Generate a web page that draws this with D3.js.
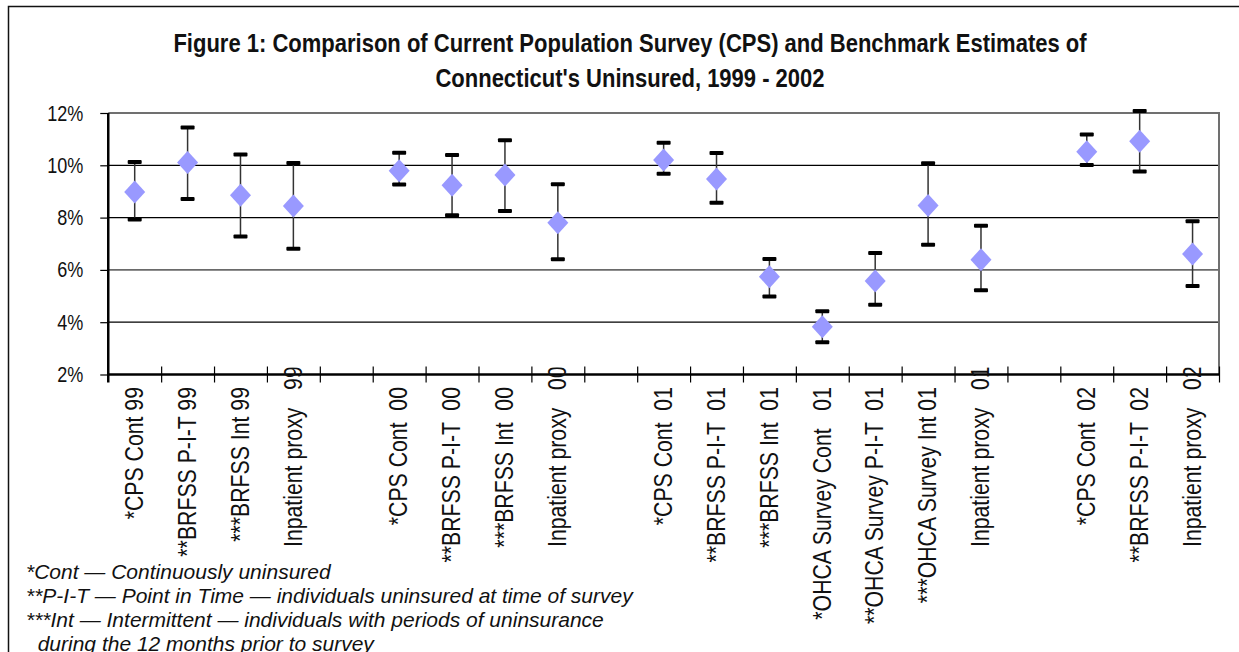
<!DOCTYPE html>
<html>
<head>
<meta charset="utf-8">
<script src="https://cdn.jsdelivr.net/npm/d3@7"></script>
<style>
  html, body { margin: 0; padding: 0; background: #fff; }
  svg { display: block; }
  text { font-family: "Liberation Sans", Arial, sans-serif; }
</style>
</head>
<body>
<svg></svg>
<script>
const WIDTH = 1239;
const HEIGHT = 652;

// category slots, null = empty spacer between survey years
const categories = [
  '*CPS Cont 99', '**BRFSS P-I-T 99', '***BRFSS Int 99', 'Inpatient proxy   99', null,
  '*CPS Cont  00', '**BRFSS P-I-T  00', '***BRFSS Int  00', 'Inpatient proxy   00', null,
  '*CPS Cont  01', '**BRFSS P-I-T  01', '***BRFSS Int  01', '*OHCA Survey Cont   01',
  '**OHCA Survey P-I-T  01', '***OHCA Survey Int 01', 'Inpatient proxy   01', null,
  '*CPS Cont  02', '**BRFSS P-I-T  02', 'Inpatient proxy   02',
];

// percent uninsured: estimate and confidence bounds
const estimate = [8.98, 10.11, 8.85, 8.44, null, 9.79, 9.24, 9.63, 7.80, null,
  10.20, 9.48, 5.74, 3.83, 5.58, 8.46, 6.39, null, 10.52, 10.92, 6.61];
const upper = [10.13, 11.45, 10.41, 10.09, null, 10.48, 10.39, 10.96, 9.28, null,
  10.86, 10.47, 6.42, 4.42, 6.65, 10.08, 7.69, null, 11.18, 12.08, 7.86];
const lower = [7.93, 8.71, 7.28, 6.81, null, 9.27, 8.09, 8.25, 6.41, null,
  9.68, 8.57, 4.98, 3.23, 4.67, 6.96, 5.22, null, 10.01, 9.76, 5.38];

const yTicks = [2, 4, 6, 8, 10, 12];

const titleLines = [
  'Figure 1: Comparison of Current Population Survey (CPS) and Benchmark Estimates of',
  "Connecticut's Uninsured, 1999 - 2002",
];

const footnotes = [
  '*Cont \u2014 Continuously uninsured',
  '**P-I-T \u2014 Point in Time \u2014 individuals uninsured at time of survey',
  '***Int \u2014 Intermittent \u2014 individuals with periods of uninsurance',
  '  during the 12 months prior to survey',
];

const PLOT = { left: 108.25, right: 1219, top: 113, bottom: 374.5 };

// squeeze a text horizontally to mimic a narrow typeface
function narrow(selection, factor) {
  selection.each(function () {
    const len = this.getComputedTextLength();
    d3.select(this)
      .attr('textLength', len * factor)
      .attr('lengthAdjust', 'spacingAndGlyphs');
  });
}

const svg = d3.select('svg')
  .attr('width', WIDTH)
  .attr('height', HEIGHT);

svg.append('rect')
  .attr('width', WIDTH)
  .attr('height', HEIGHT)
  .attr('fill', '#fff');

// outer chart frame (runs past the visible window on right and bottom)
svg.append('rect')
  .attr('x', 8.5)
  .attr('y', 6.5)
  .attr('width', 1260)
  .attr('height', 700)
  .attr('fill', 'none')
  .attr('stroke', '#111')
  .attr('stroke-width', 1.5);

const slots = d3.range(categories.length);
const xScale = d3.scaleBand()
  .domain(slots)
  .range([PLOT.left, PLOT.right]);
const xCenter = i => xScale(i) + xScale.bandwidth() / 2;

const yScale = d3.scaleLinear()
  .domain([2, 12])
  .range([PLOT.bottom, PLOT.top]);

// title
svg.append('g')
  .selectAll('text')
  .data(titleLines)
  .enter()
  .append('text')
  .attr('x', 630)
  .attr('y', (d, i) => 52 + i * 35)
  .attr('text-anchor', 'middle')
  .attr('font-size', 25)
  .attr('font-weight', 'bold')
  .attr('fill', '#111')
  .text(d => d)
  .call(narrow, 0.88);

// gridlines
svg.append('g')
  .selectAll('line')
  .data(yTicks.filter(t => t > 2 && t < 12))
  .enter()
  .append('line')
  .attr('x1', PLOT.left)
  .attr('x2', PLOT.right)
  .attr('y1', d => yScale(d))
  .attr('y2', d => yScale(d))
  .attr('stroke', d => (d === 6 ? '#6a6a6a' : '#000'))
  .attr('stroke-width', d => (d === 6 ? 1.6 : 1.2));

// plot area top and right border
svg.append('path')
  .attr('d', `M${PLOT.left},${PLOT.top}H${PLOT.right}V${PLOT.bottom}`)
  .attr('fill', 'none')
  .attr('stroke', '#707070')
  .attr('stroke-width', 2);

// y axis
const leftAxis = d3.axisLeft(yScale)
  .tickValues(yTicks)
  .tickSize(8)
  .tickPadding(17)
  .tickFormat(d => `${d}%`);
const yAxisG = svg.append('g')
  .attr('transform', `translate(${PLOT.left}, 0)`)
  .call(leftAxis);
yAxisG.select('.domain')
  .attr('d', `M0,${PLOT.top}V${PLOT.bottom + 8}`)
  .attr('stroke', '#000')
  .attr('stroke-width', 2.5);
yAxisG.selectAll('.tick line')
  .attr('stroke', '#000')
  .attr('stroke-width', 1.2);
yAxisG.selectAll('.tick text')
  .attr('font-family', '"Liberation Sans", Arial, sans-serif')
  .attr('font-size', 22)
  .attr('fill', '#111')
  .call(narrow, 0.82);

// x axis with ticks crossing at slot boundaries
const boundary = d3.scaleLinear()
  .domain([0, categories.length])
  .range([PLOT.left, PLOT.right]);
const bottomAxis = d3.axisBottom(boundary)
  .tickValues(d3.range(1, categories.length + 1))
  .tickSize(8)
  .tickFormat('');
const xAxisG = svg.append('g')
  .attr('transform', `translate(0, ${PLOT.bottom})`)
  .call(bottomAxis);
xAxisG.select('.domain')
  .attr('d', `M${PLOT.left},0H${PLOT.right}`)
  .attr('stroke', '#000')
  .attr('stroke-width', 2.5);
xAxisG.selectAll('.tick line')
  .attr('y1', -8)
  .attr('stroke', '#000')
  .attr('stroke-width', 1.2);

// category labels
const labelled = slots.filter(i => categories[i] !== null);
svg.append('defs')
  .append('clipPath')
  .attr('id', 'label-clip')
  .append('rect')
  .attr('x', 0)
  .attr('y', PLOT.bottom - 7)
  .attr('width', WIDTH)
  .attr('height', 300);
svg.append('g')
  .attr('clip-path', 'url(#label-clip)')
  .selectAll('text')
  .data(labelled)
  .enter()
  .append('text')
  .style('white-space', 'pre')
  .attr('font-size', 25)
  .attr('fill', '#111')
  .attr('dy', '0.33em')
  .attr('text-anchor', i => (categories[i].startsWith('Inpatient') ? 'start' : 'end'))
  .attr('transform', i => {
    const y = categories[i].startsWith('Inpatient') ? 547 : 387;
    return `translate(${xCenter(i)}, ${y}) rotate(-90)`;
  })
  .text(i => categories[i])
  .call(narrow, 0.85);

// error bars and diamonds
const points = slots.filter(i => estimate[i] !== null);
const marks = svg.append('g')
  .selectAll('g')
  .data(points)
  .enter()
  .append('g')
  .attr('transform', i => `translate(${xCenter(i)}, 0)`);

marks.append('line')
  .attr('y1', i => yScale(upper[i]))
  .attr('y2', i => yScale(lower[i]))
  .attr('stroke', '#333')
  .attr('stroke-width', 1.5);

[upper, lower].forEach(bound => {
  marks.append('rect')
    .attr('x', -7)
    .attr('y', i => yScale(bound[i]) - 2)
    .attr('width', 14)
    .attr('height', 4)
    .attr('rx', 1)
    .attr('fill', '#000');
});

marks.append('path')
  .attr('d', i => {
    const cy = yScale(estimate[i]);
    return `M0,${cy - 11.5}L10.5,${cy}L0,${cy + 11.5}L-10.5,${cy}Z`;
  })
  .attr('fill', '#9999ff');

// footnotes
svg.append('g')
  .selectAll('text')
  .data(footnotes)
  .enter()
  .append('text')
  .style('white-space', 'pre')
  .attr('x', 26)
  .attr('y', (d, i) => 579 + i * 24)
  .attr('font-size', 21)
  .attr('font-style', 'italic')
  .attr('fill', '#111')
  .text(d => d);
</script>
</body>
</html>
